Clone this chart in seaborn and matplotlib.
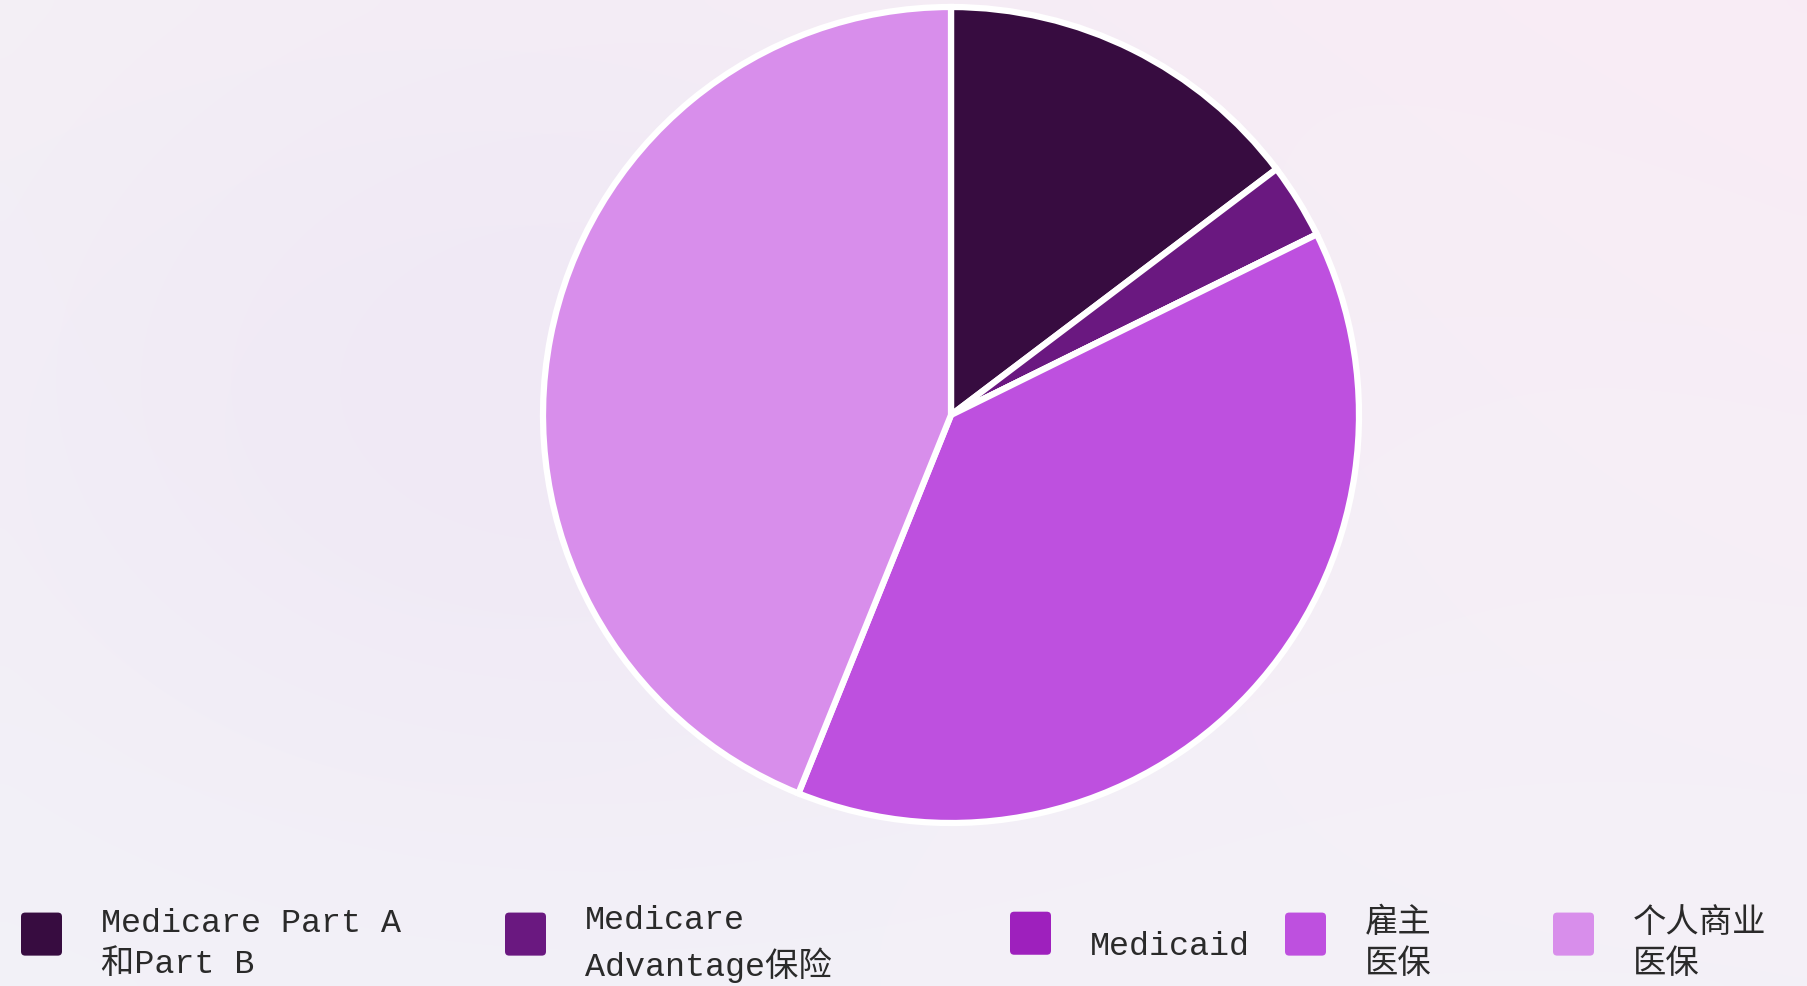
import numpy as np
import matplotlib
matplotlib.use("Agg")
import matplotlib.pyplot as plt
import seaborn as sns
from matplotlib.patches import FancyBboxPatch
from matplotlib.legend_handler import HandlerPatch

# ---- data ----
categories = ["Medicare Part A\n和Part B", "Medicare\nAdvantage保险", "Medicaid", "雇主\n医保", "个人商业\n医保"]
shares = [14.7, 3.0, 0.0, 38.4, 43.9]
colors = ["#370C40", "#6A1880", "#9E20BD", "#BE50DF", "#D88EEB"]

sns.set_theme(style="white")
plt.rcParams["font.family"] = ["Liberation Mono", "Noto Sans CJK SC", "DejaVu Sans"]

W, H = 1807, 987
fig = plt.figure(figsize=(W / 100, H / 100), dpi=100)

# background gradient
bg = fig.add_axes([0, 0, 1, 1], zorder=-10)
ny, nx = 60, 110
yy, xx = np.mgrid[0:1:ny * 1j, 0:1:nx * 1j]
tl = np.array([245, 241, 246]) / 255
tr = np.array([249, 236, 245]) / 255
bl = np.array([243, 242, 248]) / 255
br = np.array([244, 241, 248]) / 255
img = (tl[None, None] * ((1 - xx) * (1 - yy))[..., None] + tr[None, None] * (xx * (1 - yy))[..., None]
       + bl[None, None] * ((1 - xx) * yy)[..., None] + br[None, None] * (xx * yy)[..., None])
d = np.exp(-(((xx - 0.3) / 0.35) ** 2 + ((yy - 0.4) / 0.45) ** 2))
center_col = np.array([238, 230, 245]) / 255
img = img * (1 - 0.7 * d[..., None]) + center_col[None, None] * (0.7 * d[..., None])
bg.imshow(img, aspect="auto", extent=[0, 1, 0, 1], interpolation="bicubic")
bg.set_axis_off()

# pie
cx, cy, r = 951, 987 - 416, 408
lim = 1.03
side = 2 * r * lim
ax = fig.add_axes([(cx - side / 2) / W, (cy - side / 2) / H, side / W, side / H])
ax.patch.set_alpha(0)
wedges, _ = ax.pie(shares, colors=sns.color_palette(colors), startangle=90, counterclock=False,
                   wedgeprops=dict(edgecolor="white", linewidth=4.5))
ax.set_xlim(-lim, lim)
ax.set_ylim(-lim, lim)
ax.set_aspect("equal")
ax.set_axis_off()


class RoundHandler(HandlerPatch):
    def create_artists(self, legend, orig_handle, xdescent, ydescent, width, height, fontsize, trans):
        hgt = 31.0
        yc = -ydescent + height / 2 + 7.0
        p = FancyBboxPatch((-xdescent, yc - hgt / 2), width, hgt,
                           boxstyle="round,pad=0,rounding_size=3",
                           facecolor=orig_handle.get_facecolor(), edgecolor="none", transform=trans)
        return [p]


handle_x = [21, 505, 1010, 1285, 1553]
fs = 24
for i, (w, lab) in enumerate(zip(wedges, categories)):
    leg = fig.legend([w], [lab], loc="center left", bbox_to_anchor=(handle_x[i] / W, 43 / H),
                     frameon=False, fontsize=fs, borderpad=0, borderaxespad=0,
                     handlelength=1.23, handleheight=1.29, handletextpad=1.17,
                     labelcolor="#2a2a2a",
                     handler_map={matplotlib.patches.Wedge: RoundHandler()})
    for t in leg.get_texts():
        t.set_linespacing(1.4)

fig.savefig("out.png", dpi=100)
